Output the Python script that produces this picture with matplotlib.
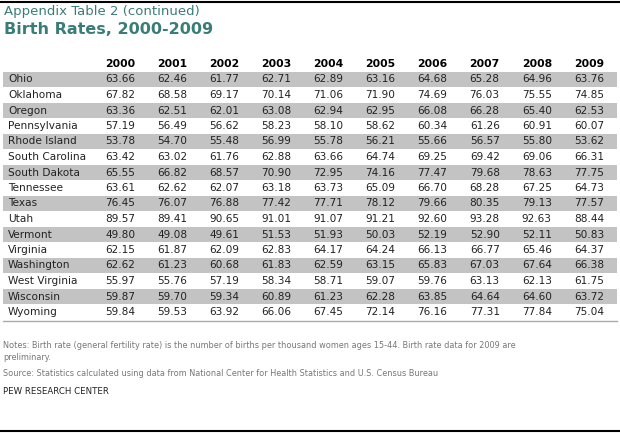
import matplotlib
matplotlib.use('Agg')
import matplotlib.pyplot as plt

years = ['2000', '2001', '2002', '2003', '2004', '2005', '2006', '2007', '2008', '2009']
states = ['Ohio', 'Oklahoma', 'Oregon', 'Pennsylvania', 'Rhode Island', 'South Carolina',
          'South Dakota', 'Tennessee', 'Texas', 'Utah', 'Vermont', 'Virginia',
          'Washington', 'West Virginia', 'Wisconsin', 'Wyoming']
rates = [
    [63.66, 62.46, 61.77, 62.71, 62.89, 63.16, 64.68, 65.28, 64.96, 63.76],
    [67.82, 68.58, 69.17, 70.14, 71.06, 71.90, 74.69, 76.03, 75.55, 74.85],
    [63.36, 62.51, 62.01, 63.08, 62.94, 62.95, 66.08, 66.28, 65.40, 62.53],
    [57.19, 56.49, 56.62, 58.23, 58.10, 58.62, 60.34, 61.26, 60.91, 60.07],
    [53.78, 54.70, 55.48, 56.99, 55.78, 56.21, 55.66, 56.57, 55.80, 53.62],
    [63.42, 63.02, 61.76, 62.88, 63.66, 64.74, 69.25, 69.42, 69.06, 66.31],
    [65.55, 66.82, 68.57, 70.90, 72.95, 74.16, 77.47, 79.68, 78.63, 77.75],
    [63.61, 62.62, 62.07, 63.18, 63.73, 65.09, 66.70, 68.28, 67.25, 64.73],
    [76.45, 76.07, 76.88, 77.42, 77.71, 78.12, 79.66, 80.35, 79.13, 77.57],
    [89.57, 89.41, 90.65, 91.01, 91.07, 91.21, 92.60, 93.28, 92.63, 88.44],
    [49.80, 49.08, 49.61, 51.53, 51.93, 50.03, 52.19, 52.90, 52.11, 50.83],
    [62.15, 61.87, 62.09, 62.83, 64.17, 64.24, 66.13, 66.77, 65.46, 64.37],
    [62.62, 61.23, 60.68, 61.83, 62.59, 63.15, 65.83, 67.03, 67.64, 66.38],
    [55.97, 55.76, 57.19, 58.34, 58.71, 59.07, 59.76, 63.13, 62.13, 61.75],
    [59.87, 59.70, 59.34, 60.89, 61.23, 62.28, 63.85, 64.64, 64.60, 63.72],
    [59.84, 59.53, 63.92, 66.06, 67.45, 72.14, 76.16, 77.31, 77.84, 75.04],
]

fig = plt.figure(figsize=(6.2, 4.33), dpi=100)
ax = fig.add_axes([0, 0, 1, 1])
ax.set_xlim(0, 620)
ax.set_ylim(433, 0)
ax.axis('off')

font = 'DejaVu Sans'
teal = '#3a7d78'
row0, row_h = 79.5, 15.5
col0, col_w = 120, 52.1

# top and bottom rules
ax.plot([0, 620], [1.5, 1.5], color='black', lw=1.5)
ax.plot([0, 620], [430.5, 430.5], color='black', lw=1.5)

ax.text(4, 12, 'Appendix Table 2 (continued)', color=teal, fontsize=9.5, va='center', family=font)
ax.text(4, 29, 'Birth Rates, 2000-2009', color=teal, fontsize=11.5, fontweight='bold', va='center', family=font)

for j, yr in enumerate(years):
    ax.text(col0 + j * col_w, 64, yr, ha='center', va='center', fontsize=7.8,
            fontweight='bold', family=font)

for i, (st, vals) in enumerate(zip(states, rates)):
    y = row0 + i * row_h
    if i % 2 == 0:
        ax.barh(y, 614, left=3, height=row_h, color='#c3c3c3', zorder=0)
    ax.text(8, y, st, va='center', fontsize=7.6, family=font, color='#222222')
    for j, v in enumerate(vals):
        ax.text(col0 + j * col_w, y, f'{v:.2f}', ha='center', va='center',
                fontsize=7.6, family=font, color='#222222')

ax.plot([3, 617], [row0 + 15.5 * row_h + 1, row0 + 15.5 * row_h + 1], color='#aaaaaa', lw=1)

grey = '#777777'
ax.text(3, 346, 'Notes: Birth rate (general fertility rate) is the number of births per thousand women ages 15-44. Birth rate data for 2009 are',
        fontsize=5.9, color=grey, va='center', family=font)
ax.text(3, 358, 'preliminary.', fontsize=5.9, color=grey, va='center', family=font)
ax.text(3, 374, 'Source: Statistics calculated using data from National Center for Health Statistics and U.S. Census Bureau',
        fontsize=5.9, color=grey, va='center', family=font)
ax.text(3, 392, 'PEW RESEARCH CENTER', fontsize=6.2, color='#222222', va='center', family=font)

fig.savefig('out.png', dpi=100)
